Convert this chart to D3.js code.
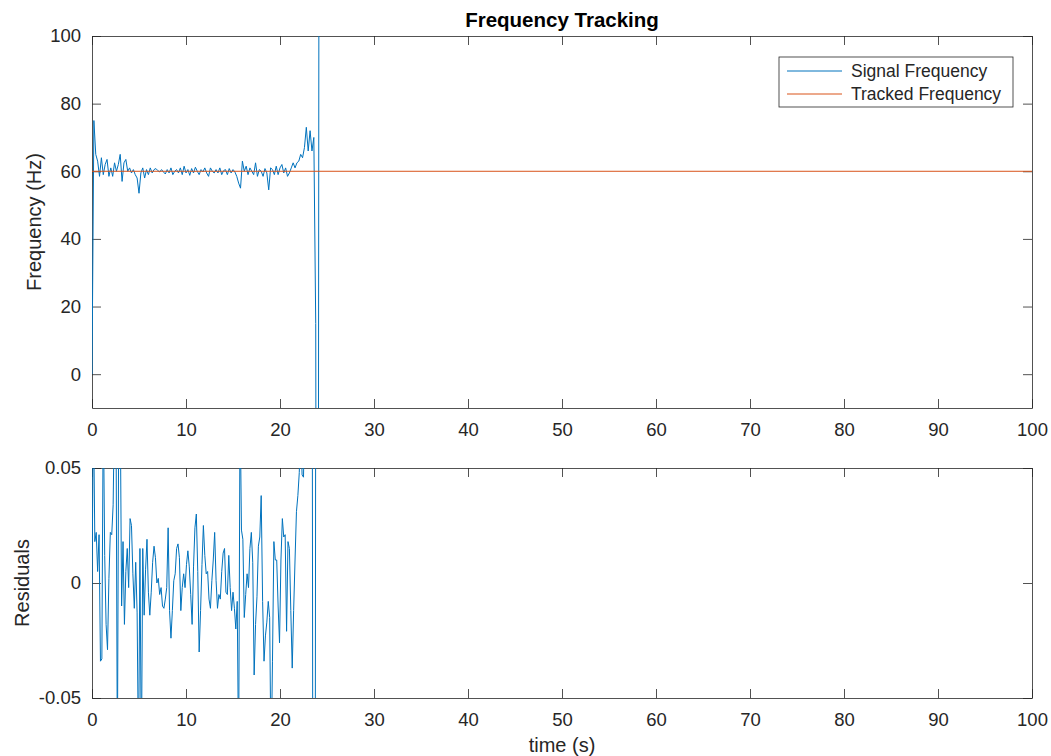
<html>
<head>
<style>
  body { margin: 0; background: #ffffff; }
  text { font-family: "Liberation Sans", Arial, Helvetica, sans-serif; fill: #262626; }
</style>
</head>
<body>
<script src="https://d3js.org/d3.v7.min.js"></script>
<div id="chart"></div>
<script>
// sampled signal frequency (Hz), one value every sigStep seconds from t = 0
var sigStep = 0.2;
var signalFreq = [
  0, 75, 65, 63, 58.5, 64, 59, 62, 63.5, 58.5,
  61, 58.5, 62.5, 60, 62, 65, 57, 62.5, 63.5, 60,
  61, 59.5, 60.5, 59, 58, 53.5, 59.5, 61, 58, 60.5,
  59, 61, 59.5, 60.5, 60.8, 60.2, 59.8, 60.5, 59.8, 59.2,
  60.5, 59.5, 61, 59, 60, 60.5, 59.5, 61, 59, 61.5,
  59.5, 60.5, 58.8, 60.8, 59.5, 61.2, 60, 59, 60.5, 59.8,
  61, 59.5, 58.5, 61, 60, 59.5, 60.5, 59.5, 61, 59,
  60.2, 60.5, 59, 60.8, 59.5, 60.5, 59.8, 58.5, 56.5, 55,
  63, 60, 61.5, 59, 61, 60, 59, 62.5, 58.5, 60.5,
  60, 58.5, 60.8, 59.5, 54.5, 61, 60.5, 59, 61.5, 59,
  61, 62, 59.5, 61, 58.5, 59.5, 61, 62.5, 61, 62.5,
  63, 65, 64, 67, 73, 66, 72, 66, 70, 15,
  -300, 300
];

// tracked frequency (Hz)
var trackedTime = [0, 100];
var trackedFreq = [60, 60];

// residuals, one value every resStep seconds from t = 0
var resStep = 0.15;
var residuals = [
  -0.003, 0.08, 0.018, 0.022, 0.005, 0.021, -0.034, -0.033, 0.08, 0.012,
  -0.018, -0.029, 0.002, 0.022, 0.021, 0.034, 0.08, 0.08, -0.08, 0.08,
  0.08, -0.010, 0.018, -0.018, 0.005, 0.015, -0.002, 0.028, 0.025, 0.004,
  -0.011, 0.009, -0.013, -0.08, 0.015, -0.08, 0.015, -0.014, 0.006, 0.019,
  -0.004, -0.014, -0.004, 0.009, 0.016, 0.011, 0.000, 0.002, -0.005, -0.002,
  -0.010, -0.011, -0.007, -0.002, 0.024, -0.012, -0.024, -0.012, 0.001, 0.004,
  0.015, 0.017, 0.011, -0.012, -0.002, 0.004, -0.002, 0.008, 0.014, 0.007,
  -0.005, -0.018, 0.007, 0.024, 0.030, 0.005, -0.030, -0.012, 0.008, 0.025,
  0.012, 0.004, 0.005, -0.007, -0.011, 0.001, 0.010, 0.022, 0.001, -0.011,
  -0.005, -0.007, 0.005, 0.013, 0.015, -0.004, -0.005, 0.012, -0.002, -0.012,
  -0.004, -0.011, -0.020, -0.008, -0.08, 0.08, 0.023, 0.019, -0.015, -0.005,
  0.004, -0.002, 0.015, 0.022, 0.009, -0.040, -0.018, -0.006, 0.016, 0.020,
  0.038, -0.008, -0.034, -0.023, -0.017, -0.008, -0.015, -0.08, -0.034, 0.018,
  0.010, 0.010, -0.010, -0.026, 0.010, 0.028, 0.020, 0.021, -0.021, 0.018,
  0.015, -0.012, -0.037, -0.012, 0.010, 0.031, 0.038, 0.048, 0.07, 0.047,
  0.046, 0.08, 0.1, 0.12, 0.15, 0.12, 0.2, -0.3, -0.3, 0.3,
  0.3
];

var xTicks = [0, 10, 20, 30, 40, 50, 60, 70, 80, 90, 100];
var freqTicks = [0, 20, 40, 60, 80, 100];
var resTicks = [-0.05, 0, 0.05];

var blue = "#0072BD", orange = "#D95319", ink = "#262626";
var font = '"Liberation Sans", Arial, Helvetica, sans-serif';

var svg = d3.select("#chart")
    .append("svg")
    .attr("width", 1051)
    .attr("height", 756);

var left = 92, right = 1032;
var top1 = 36, bot1 = 408;
var top2 = 468, bot2 = 698;

var x = d3.scaleLinear().domain([0, 100]).range([left, right]);
var y1 = d3.scaleLinear().domain([-10, 100]).range([bot1, top1]);
var y2 = d3.scaleLinear().domain([-0.05, 0.05]).range([bot2, top2]);

var sigData = signalFreq.map(function (v, i) { return { t: i * sigStep, v: v }; });
var resData = residuals.map(function (v, i) { return { t: i * resStep, v: v }; });
var trkData = trackedTime.map(function (t, i) { return { t: t, v: trackedFreq[i] }; });

// clip areas for each axes box
var defs = svg.append("defs");
defs.append("clipPath").attr("id", "clip1").append("rect")
    .attr("x", left).attr("y", top1).attr("width", right - left).attr("height", bot1 - top1);
defs.append("clipPath").attr("id", "clip2").append("rect")
    .attr("x", left).attr("y", top2).attr("width", right - left).attr("height", bot2 - top2);

function drawAxes(y, yTicks, top, bot, fmt) {
    var gb = svg.append("g")
        .attr("transform", "translate(0," + bot + ")")
        .call(d3.axisBottom(x).tickValues(xTicks).tickSizeInner(-9).tickSizeOuter(0).tickPadding(15));
    var gt = svg.append("g")
        .attr("transform", "translate(0," + top + ")")
        .call(d3.axisTop(x).tickValues(xTicks).tickSizeInner(-9).tickSizeOuter(0).tickFormat(""));
    var gl = svg.append("g")
        .attr("transform", "translate(" + left + ",0)")
        .call(d3.axisLeft(y).tickValues(yTicks).tickSizeInner(-9).tickSizeOuter(0).tickPadding(11).tickFormat(fmt));
    var gr = svg.append("g")
        .attr("transform", "translate(" + right + ",0)")
        .call(d3.axisRight(y).tickValues(yTicks).tickSizeInner(-9).tickSizeOuter(0).tickFormat(""));
    [gb, gt, gl, gr].forEach(function (g) {
        g.attr("color", ink)
            .attr("font-family", font)
            .attr("font-size", 18.5);
        g.selectAll("line").attr("stroke-width", 0.8);
        g.select(".domain").attr("stroke-width", 0.8);
    });
}

// ---- top panel: frequency
drawAxes(y1, freqTicks, top1, bot1, function (d) { return d; });

svg.append("path")
    .datum(sigData)
    .attr("clip-path", "url(#clip1)")
    .attr("fill", "none")
    .attr("stroke", blue)
    .attr("stroke-width", 1)
    .attr("d", d3.line()
        .x(function (d) { return x(d.t); })
        .y(function (d) { return y1(d.v); }));

svg.append("path")
    .datum(trkData)
    .attr("clip-path", "url(#clip1)")
    .attr("fill", "none")
    .attr("stroke", orange)
    .attr("stroke-width", 1)
    .attr("d", d3.line()
        .x(function (d) { return x(d.t); })
        .y(function (d) { return y1(d.v); }));

svg.append("text")
    .attr("x", (left + right) / 2)
    .attr("y", 27)
    .attr("text-anchor", "middle")
    .attr("font-size", 20.5)
    .attr("font-weight", "bold")
    .style("fill", "#000")
    .text("Frequency Tracking");

svg.append("text")
    .attr("transform", "translate(41," + ((top1 + bot1) / 2) + ") rotate(-90)")
    .attr("text-anchor", "middle")
    .attr("font-size", 20)
    .text("Frequency (Hz)");

// legend
var legend = svg.append("g").attr("transform", "translate(779,57)");
legend.append("rect")
    .attr("width", 234).attr("height", 50)
    .attr("fill", "#fff").attr("stroke", ink).attr("stroke-width", 0.8);
var legendItems = [{ name: "Signal Frequency", color: blue }, { name: "Tracked Frequency", color: orange }];
legendItems.forEach(function (d, i) {
    legend.append("line")
        .attr("x1", 8).attr("x2", 63)
        .attr("y1", 14 + i * 23).attr("y2", 14 + i * 23)
        .attr("stroke", d.color).attr("stroke-width", 1);
    legend.append("text")
        .attr("x", 72).attr("y", 20 + i * 23)
        .attr("font-size", 17.5)
        .text(d.name);
});

// ---- bottom panel: residuals
drawAxes(y2, resTicks, top2, bot2, function (d) { return d === 0 ? "0" : d.toFixed(2); });

svg.append("path")
    .datum(resData)
    .attr("clip-path", "url(#clip2)")
    .attr("fill", "none")
    .attr("stroke", blue)
    .attr("stroke-width", 1)
    .attr("d", d3.line()
        .x(function (d) { return x(d.t); })
        .y(function (d) { return y2(d.v); }));

svg.append("text")
    .attr("transform", "translate(29," + ((top2 + bot2) / 2) + ") rotate(-90)")
    .attr("text-anchor", "middle")
    .attr("font-size", 20)
    .text("Residuals");

svg.append("text")
    .attr("x", (left + right) / 2)
    .attr("y", 752)
    .attr("text-anchor", "middle")
    .attr("font-size", 20)
    .text("time (s)");
</script>
</body>
</html>
